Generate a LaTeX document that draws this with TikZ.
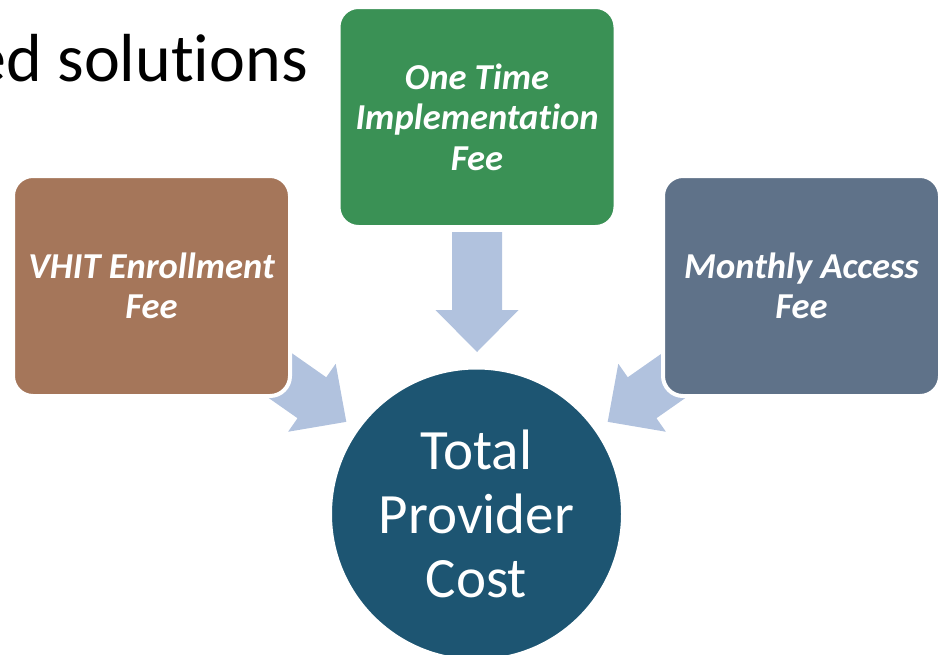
\documentclass[tikz,border=0pt]{standalone}
\usepackage{fontspec}
\setmainfont{Carlito}[Ligatures=NoCommon]
\definecolor{cbrown}{HTML}{A5765A}
\definecolor{cgreen}{HTML}{3A9155}
\definecolor{cslate}{HTML}{5F7289}
\definecolor{cnavy}{HTML}{1D5572}
\definecolor{carrow}{HTML}{B1C2DE}
\tikzset{
  feebox/.style={rounded corners=20pt, draw=white, line width=4pt, minimum width=277pt, minimum height=220pt, inner sep=0pt, text=white, align=center, font=\fontsize{36.5}{40.5}\selectfont\bfseries\itshape},
  totalnode/.style={circle, fill=cnavy, draw=white, line width=3pt, minimum size=292pt, inner sep=0pt, text=white, align=center, font=\fontsize{57}{64}\selectfont},
  blockarrow/.style={fill=carrow}
}
\newcommand{\myblockarrow}{(0,-25) -- (78,-25) -- (78,-41.5) -- (120,0) -- (78,41.5) -- (78,25) -- (0,25) -- cycle}
\begin{document}
\begin{tikzpicture}[x=1pt,y=-1pt]
\useasboundingbox (0,0) rectangle (942,654);
\begin{scope}
\clip (0,0) rectangle (942,654);
\node[anchor=base east, font=\fontsize{68}{80}\selectfont, text=black, inner sep=0pt] (title) at (308,81) {ed solutions};
% arrows
\coordinate (aL) at (248,353);
\coordinate (aT) at (477,232);
\coordinate (aR) at (706,353);
\begin{scope}[shift={(aL)}, rotate=-35]
\fill[blockarrow] \myblockarrow;
\end{scope}
\begin{scope}[shift={(aT)}, rotate=-90]
\fill[blockarrow] \myblockarrow;
\end{scope}
\begin{scope}[shift={(aR)}, rotate=-145]
\fill[blockarrow] \myblockarrow;
\end{scope}
% boxes
\node[feebox, fill=cbrown] (vhit) at (151.5,286) {VHIT Enrollment\\Fee};
\node[feebox, fill=cgreen] (otf) at (477,117) {One Time\\Implementation\\Fee};
\node[feebox, fill=cslate] (maf) at (801.5,286) {Monthly Access\\Fee};
% circle
\node[totalnode] (total) at (476.5,514) {Total\\Provider\\Cost};
\end{scope}
\end{tikzpicture}
\end{document}
